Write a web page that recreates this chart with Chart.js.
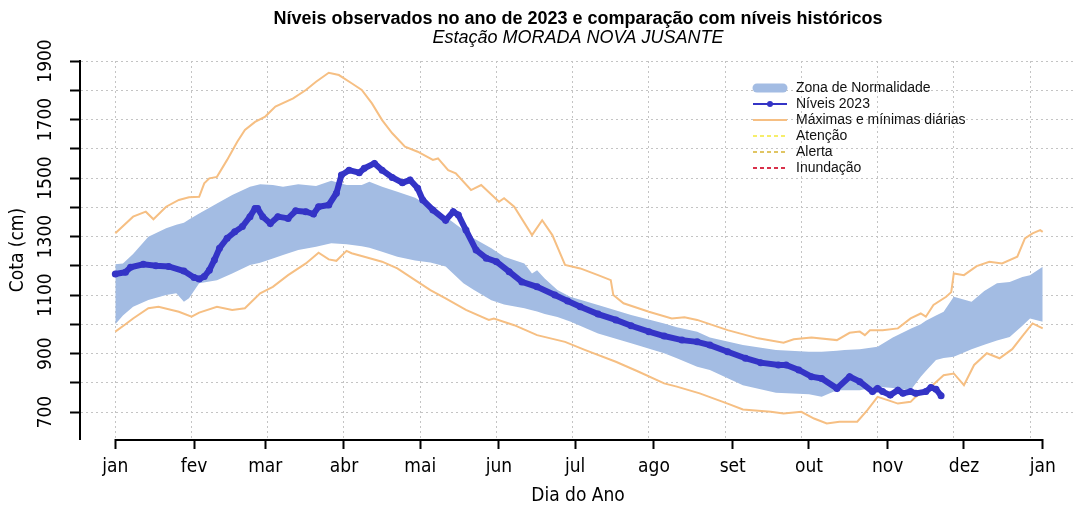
<!DOCTYPE html>
<html lang="pt-BR">
<head>
<meta charset="utf-8">
<title>Níveis observados 2023 - MORADA NOVA JUSANTE</title>
<script src="https://cdn.jsdelivr.net/npm/chart.js@4.4.1/dist/chart.umd.min.js"></script>
<style>
  html, body { margin: 0; padding: 0; background: #fff; }
  #wrap { width: 1080px; height: 508px; }
</style>
</head>
<body>
<div id="wrap"><canvas id="grafico" width="1080" height="508"></canvas></div>
<script>
// eixo x: dia do ano
const meses = ["jan", "fev", "mar", "abr", "mai", "jun", "jul", "ago", "set", "out", "nov", "dez", "jan"];
const mesDias = [0, 31, 59, 90, 120, 151, 181, 212, 243, 273, 304, 334, 365];
const gradeDias = [0, 30, 60, 90, 120, 150, 180, 210, 240, 270, 300, 330, 360];
// eixo y: cota (cm)
const cotaTicks = [700, 800, 900, 1000, 1100, 1200, 1300, 1400, 1500, 1600, 1700, 1800, 1900];

// níveis observados em 2023
const nivelDias = [0, 4, 6, 11, 16, 21, 27, 31, 33, 35, 37, 39, 41, 44, 47, 50, 53, 55, 56, 58, 61, 64, 68, 71, 75, 78, 80, 84, 87, 89, 92, 96, 98, 102, 105, 109, 113, 116, 119, 121, 125, 130, 133, 135, 138, 142, 146, 150, 155, 160, 166, 173, 178, 183, 190, 197, 203, 210, 216, 223, 229, 234, 241, 248, 254, 261, 264, 269, 274, 278, 284, 289, 293, 298, 300, 302, 305, 308, 310, 313, 315, 319, 321, 323, 325];
const nivel2023 = [1172, 1178, 1195, 1205, 1200, 1198, 1182, 1160, 1155, 1163, 1185, 1220, 1260, 1294, 1316, 1334, 1368, 1396, 1396, 1368, 1345, 1368, 1362, 1388, 1385, 1377, 1402, 1408, 1448, 1510, 1527, 1518, 1533, 1550, 1527, 1502, 1484, 1493, 1465, 1425, 1391, 1356, 1385, 1374, 1322, 1254, 1226, 1214, 1180, 1145, 1128, 1100, 1080, 1060, 1035, 1015, 995, 975, 960, 946, 940, 929, 906, 884, 869, 861, 861, 844, 821, 815, 781, 821, 804, 770, 781, 770, 758, 775, 764, 770, 764, 770, 784, 778, 756];

// máximas diárias históricas
const maxDias = [0, 7, 12, 15, 20, 25, 29, 33, 35, 37, 40, 44, 48, 51, 55, 59, 63, 70, 75, 79, 84, 88, 93, 97, 101, 105, 109, 114, 119, 125, 127, 131, 134, 140, 144, 151, 153, 157, 164, 168, 172, 177, 183, 190, 195, 196, 200, 210, 219, 224, 229, 241, 253, 263, 267, 274, 284, 289, 293, 295, 297, 302, 308, 313, 317, 319, 322, 327, 329, 330, 334, 339, 344, 349, 355, 358, 361, 364, 365];
const maxCota = [1311, 1368, 1385, 1359, 1402, 1425, 1434, 1436, 1482, 1499, 1504, 1562, 1624, 1664, 1692, 1710, 1744, 1772, 1801, 1829, 1860, 1852, 1824, 1801, 1755, 1698, 1653, 1607, 1590, 1562, 1567, 1527, 1516, 1459, 1476, 1419, 1431, 1402, 1305, 1356, 1305, 1203, 1191, 1168, 1151, 1100, 1072, 1043, 1020, 1024, 1015, 980, 952, 937, 949, 955, 946, 971, 975, 963, 980, 980, 986, 1020, 1037, 1026, 1066, 1094, 1110, 1174, 1168, 1199, 1214, 1208, 1231, 1294, 1311, 1322, 1316];

// mínimas diárias históricas
const minDias = [0, 4, 7, 13, 17, 25, 30, 33, 40, 46, 51, 57, 62, 68, 75, 80, 84, 87, 91, 93, 98, 105, 111, 118, 124, 130, 138, 147, 149, 157, 166, 177, 185, 197, 206, 216, 221, 230, 241, 247, 258, 263, 270, 275, 280, 285, 292, 296, 300, 304, 308, 313, 315, 321, 326, 330, 334, 338, 343, 348, 353, 357, 361, 365];
const minCota = [975, 1000, 1020, 1055, 1060, 1043, 1026, 1040, 1060, 1049, 1055, 1106, 1128, 1168, 1208, 1245, 1222, 1217, 1251, 1243, 1231, 1214, 1191, 1151, 1117, 1089, 1049, 1015, 1020, 997, 963, 940, 912, 872, 838, 798, 787, 764, 729, 709, 701, 695, 701, 678, 661, 667, 667, 707, 752, 741, 729, 735, 752, 787, 826, 832, 792, 861, 901, 884, 915, 960, 1003, 986];

// zona de normalidade (limites superior e inferior)
const bandDias = [0, 3, 7, 13, 20, 24, 27, 29, 33, 40, 46, 53, 57, 62, 66, 72, 79, 85, 91, 97, 100, 105, 111, 118, 124, 130, 137, 141, 148, 153, 161, 164, 166, 169, 174, 179, 190, 203, 216, 221, 229, 234, 247, 260, 273, 278, 284, 287, 293, 300, 306, 313, 317, 319, 323, 326, 330, 337, 342, 347, 352, 357, 360, 365];
const bandSup = [1205, 1208, 1240, 1299, 1328, 1340, 1347, 1358, 1379, 1413, 1442, 1470, 1479, 1476, 1470, 1479, 1473, 1491, 1476, 1476, 1487, 1470, 1453, 1433, 1402, 1368, 1322, 1294, 1260, 1231, 1208, 1174, 1185, 1157, 1117, 1094, 1066, 1032, 1003, 990, 975, 955, 929, 912, 906, 906, 910, 912, 915, 923, 955, 985, 1000, 1012, 1030, 1043, 1094, 1077, 1114, 1140, 1145, 1162, 1168, 1197];
const bandInf = [1000, 1030, 1060, 1083, 1100, 1106, 1077, 1089, 1140, 1151, 1174, 1203, 1210, 1225, 1237, 1254, 1265, 1277, 1274, 1267, 1262, 1248, 1231, 1218, 1211, 1198, 1140, 1118, 1082, 1068, 1055, 1048, 1044, 1035, 1025, 1010, 969, 935, 901, 884, 855, 844, 792, 766, 761, 752, 775, 775, 775, 787, 782, 775, 821, 840, 878, 885, 889, 915, 930, 945, 957, 995, 1020, 1009];

const fonte = '"Liberation Sans", Arial, sans-serif';
const fonteEixo = '"Liberation Sans Narrow", "DejaVu Sans Condensed", "Liberation Sans", sans-serif';

const X_MIN = -13.9;
const X_MAX = 378.1;

function pontos(dias, valores) {
    return dias.map((d, i) => ({ x: d, y: valores[i] }));
}

// linha do eixo x só de jan a jan, como no R
const eixoX = {
    id: "eixoX",
    afterDraw(chart) {
        const ctx = chart.ctx;
        const sx = chart.scales.x;
        const y = chart.chartArea.bottom + 1;
        ctx.save();
        ctx.strokeStyle = "#000";
        ctx.lineWidth = 2;
        ctx.beginPath();
        ctx.moveTo(sx.getPixelForValue(mesDias[0]), y);
        ctx.lineTo(sx.getPixelForValue(mesDias[mesDias.length - 1]), y);
        ctx.stroke();
        ctx.restore();
    }
};

const itensLegenda = ["Zona de Normalidade", "Níveis 2023", "Máximas e mínimas diárias", "Atenção", "Alerta", "Inundação"];

// legenda dentro da área do gráfico, sem moldura
const legenda = {
    id: "legenda",
    afterDraw(chart) {
        const ctx = chart.ctx;
        const x0 = 753, x1 = 787, xt = 796, y0 = 88, dy = 16;
        ctx.save();
        ctx.font = "14px " + fonte;
        ctx.textBaseline = "middle";
        ctx.textAlign = "left";
        itensLegenda.forEach((nome, i) => {
            const ds = chart.data.datasets.find(d => d.label === nome);
            const y = y0 + i * dy;
            if (ds.fill) {
                ctx.strokeStyle = ds.backgroundColor;
                ctx.lineWidth = 9;
                ctx.lineCap = "round";
                ctx.setLineDash([]);
                ctx.beginPath();
                ctx.moveTo(x0 + 4, y);
                ctx.lineTo(x1 - 4, y);
                ctx.stroke();
            } else {
                ctx.strokeStyle = ds.borderColor;
                ctx.lineWidth = 2;
                ctx.lineCap = "butt";
                ctx.setLineDash(ds.borderDash || []);
                ctx.beginPath();
                ctx.moveTo(x0, y);
                ctx.lineTo(x1, y);
                ctx.stroke();
                ctx.setLineDash([]);
                if (ds.pointRadius > 0) {
                    ctx.fillStyle = ds.borderColor;
                    ctx.beginPath();
                    ctx.arc((x0 + x1) / 2, y, 3, 0, Math.PI * 2);
                    ctx.fill();
                }
            }
            ctx.fillStyle = "#111";
            ctx.fillText(nome, xt, y);
        });
        ctx.restore();
    }
};

const ctx = document.getElementById("grafico").getContext("2d");
new Chart(ctx, {
    type: "line",
    data: {
        datasets: [
            {
                label: "Níveis 2023",
                data: pontos(nivelDias, nivel2023),
                borderColor: "#3434c6",
                backgroundColor: "#3434c6",
                borderWidth: 6,
                pointRadius: 3.5,
                pointBorderWidth: 0,
                pointBackgroundColor: "#3434c6",
                tension: 0
            },
            {
                label: "Máximas e mínimas diárias",
                data: pontos(maxDias, maxCota),
                borderColor: "#f6bf83",
                borderWidth: 2,
                pointRadius: 0
            },
            {
                label: "Mínimas diárias",
                data: pontos(minDias, minCota),
                borderColor: "#f6bf83",
                borderWidth: 2,
                pointRadius: 0
            },
            {
                label: "Limite superior",
                data: pontos(bandDias, bandSup),
                borderColor: "rgba(0,0,0,0)",
                borderWidth: 0,
                pointRadius: 0
            },
            {
                label: "Zona de Normalidade",
                data: pontos(bandDias, bandInf),
                borderColor: "rgba(0,0,0,0)",
                borderWidth: 0,
                pointRadius: 0,
                fill: "-1",
                backgroundColor: "#a3bce3"
            },
            { label: "Atenção", data: [], borderColor: "#f6ee6a", borderDash: [4, 3], borderWidth: 1.5, pointRadius: 0 },
            { label: "Alerta", data: [], borderColor: "#e0c563", borderDash: [4, 3], borderWidth: 1.5, pointRadius: 0 },
            { label: "Inundação", data: [], borderColor: "#d8304a", borderDash: [4, 3], borderWidth: 1.5, pointRadius: 0 }
        ]
    },
    options: {
        responsive: false,
        devicePixelRatio: 1,
        animation: false,
        layout: { padding: 0 },
        scales: {
            x: {
                type: "linear",
                position: "bottom",
                min: X_MIN,
                max: X_MAX,
                afterBuildTicks: s => { s.ticks = mesDias.map(v => ({ value: v })); },
                afterFit: s => { s.height = 69; },
                grid: { drawOnChartArea: false, drawTicks: true, tickLength: 10, tickColor: "#000", tickWidth: 2 },
                border: { display: false },
                ticks: {
                    autoSkip: false,
                    minRotation: 0,
                    maxRotation: 0,
                    padding: 7,
                    color: "#000",
                    font: { family: fonteEixo, size: 19 },
                    callback: (v, i) => meses[i]
                },
                title: {
                    display: true,
                    text: "Dia do Ano",
                    color: "#000",
                    font: { family: fonteEixo, size: 19, lineHeight: 1 },
                    padding: { top: 0, bottom: 2 }
                }
            },
            xg: {
                type: "linear",
                position: "bottom",
                min: X_MIN,
                max: X_MAX,
                afterBuildTicks: s => { s.ticks = gradeDias.map(v => ({ value: v })); },
                afterFit: s => { s.height = 0; },
                grid: { color: "#c4c4c4", lineWidth: 1, drawTicks: false },
                border: { display: false, dash: [2, 3] },
                ticks: { display: false }
            },
            y: {
                type: "linear",
                position: "left",
                min: 608,
                max: 1900,
                afterBuildTicks: s => { s.ticks = cotaTicks.map(v => ({ value: v })); },
                afterFit: s => { s.width = 80; },
                grid: { color: "#c4c4c4", lineWidth: 1, tickLength: 10, tickColor: "#000", tickWidth: 2 },
                border: { display: true, color: "#000", width: 2, dash: [2, 3] },
                ticks: {
                    autoSkip: false,
                    minRotation: 90,
                    maxRotation: 90,
                    crossAlign: "center",
                    padding: 2,
                    color: "#000",
                    font: { family: fonteEixo, size: 19 },
                    callback: v => (v % 200 === 100 ? String(v) : "")
                },
                title: {
                    display: true,
                    text: "Cota (cm)",
                    color: "#000",
                    font: { family: fonteEixo, size: 19, lineHeight: 1 },
                    padding: { top: 9, bottom: 0 }
                }
            }
        },
        plugins: {
            legend: { display: false },
            tooltip: { enabled: false },
            title: {
                display: true,
                text: "Níveis observados no ano de 2023 e comparação com níveis históricos",
                color: "#000",
                fullSize: false,
                font: { family: fonte, size: 18, weight: "bold", lineHeight: 1 },
                padding: { top: 10, bottom: 1 }
            },
            subtitle: {
                display: true,
                text: "Estação MORADA NOVA JUSANTE",
                color: "#000",
                fullSize: false,
                font: { family: fonte, size: 18, style: "italic", lineHeight: 1 },
                padding: { top: 0, bottom: 14 }
            }
        }
    },
    plugins: [eixoX, legenda]
});
</script>
</body>
</html>
